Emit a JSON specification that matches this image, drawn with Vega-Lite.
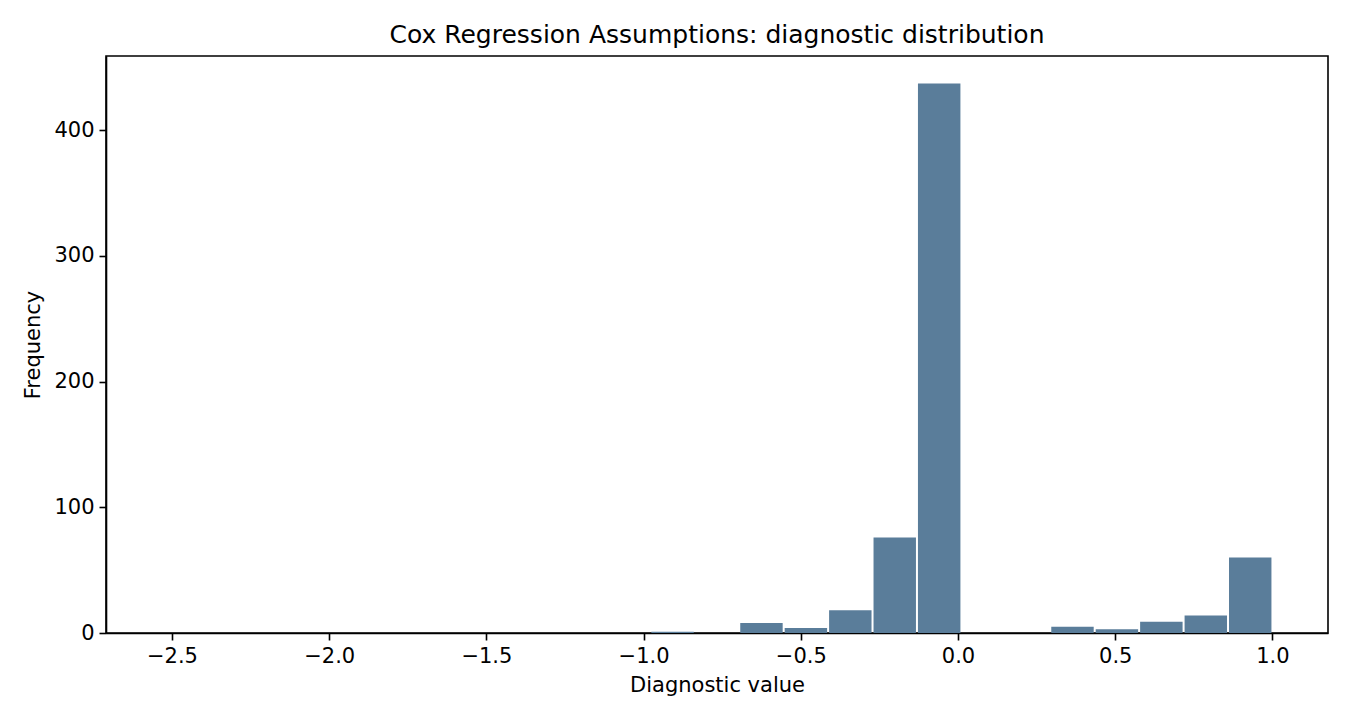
{
  "$schema": "https://vega.github.io/schema/vega-lite/v6.json",
  "width": 1222,
  "height": 577,
  "autosize": {"type": "none"},
  "padding": {"left": 106, "top": 56, "right": 22, "bottom": 87},
  "background": "white",
  "title": {
    "text": "Cox Regression Assumptions: diagnostic distribution",
    "font": "DejaVu Sans",
    "fontSize": 25,
    "fontWeight": "normal",
    "color": "black",
    "anchor": "middle",
    "offset": 8
  },
  "config": {
    "view": {"stroke": "black", "strokeWidth": 1.6},
    "axis": {
      "grid": false,
      "zindex": 1,
      "domainColor": "black",
      "domainWidth": 1.6,
      "tickColor": "black",
      "tickWidth": 1.6,
      "tickSize": 7,
      "labelPadding": 5,
      "labelFont": "DejaVu Sans",
      "labelFontSize": 21,
      "labelColor": "black",
      "titleFont": "DejaVu Sans",
      "titleFontSize": 21,
      "titleFontWeight": "normal",
      "titleColor": "black"
    }
  },
  "data": {
    "values": [
      {"bin_start": -0.9785, "bin_end": -0.8372, "count": 1},
      {"bin_start": -0.6958, "bin_end": -0.5545, "count": 8},
      {"bin_start": -0.5545, "bin_end": -0.4132, "count": 4},
      {"bin_start": -0.4132, "bin_end": -0.2719, "count": 18},
      {"bin_start": -0.2719, "bin_end": -0.1306, "count": 76},
      {"bin_start": -0.1306, "bin_end": 0.0108, "count": 437},
      {"bin_start": 0.2934, "bin_end": 0.4347, "count": 5},
      {"bin_start": 0.4347, "bin_end": 0.576, "count": 3},
      {"bin_start": 0.576, "bin_end": 0.7174, "count": 9},
      {"bin_start": 0.7174, "bin_end": 0.8587, "count": 14},
      {"bin_start": 0.8587, "bin_end": 1.0, "count": 60}
    ]
  },
  "mark": {"type": "bar", "color": "#5a7d9a", "xOffset": 1, "x2Offset": -1, "y2Offset": 0},
  "encoding": {
    "x": {
      "field": "bin_start",
      "type": "quantitative",
      "title": "Diagnostic value",
      "scale": {"domain": [-2.7098, 1.1767], "nice": false, "zero": false},
      "axis": {"values": [-2.5, -2.0, -1.5, -1.0, -0.5, 0.0, 0.5, 1.0], "format": ".1f", "titlePadding": 8}
    },
    "x2": {"field": "bin_end"},
    "y": {
      "field": "count",
      "type": "quantitative",
      "title": "Frequency",
      "scale": {"domain": [0, 458.85], "nice": false},
      "axis": {"values": [0, 100, 200, 300, 400], "titlePadding": 10}
    },
    "y2": {"datum": 0}
  }
}
